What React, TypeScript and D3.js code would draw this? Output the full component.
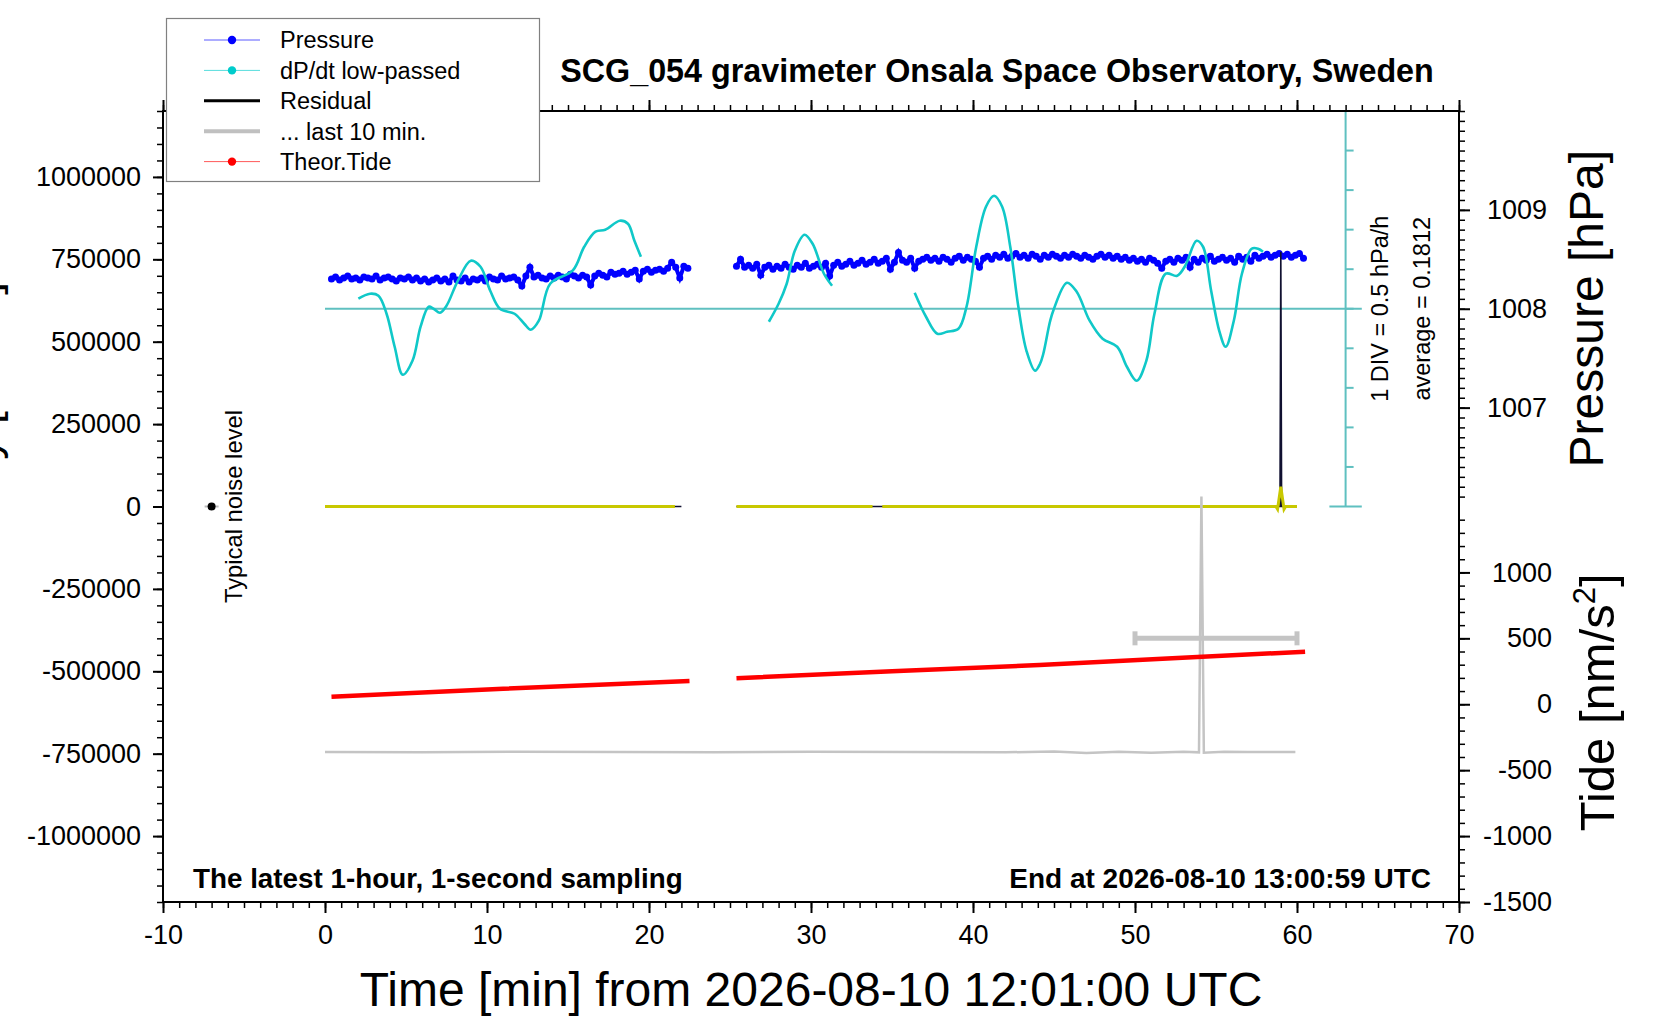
import { useEffect, useRef } from "react"
import * as d3 from "d3"

const FONT = "'Liberation Sans', Arial, Helvetica, sans-serif"

// axes
const TIME_DOMAIN: [number, number] = [-10, 70]
const TIME_TICKS = [-10, 0, 10, 20, 30, 40, 50, 60, 70]
const GRAV_DOMAIN: [number, number] = [-1200000, 1200000]
const GRAV_TICKS = [-1000000, -750000, -500000, -250000, 0, 250000, 500000, 750000, 1000000]
const PRESSURE_DOMAIN: [number, number] = [1006, 1010]
const PRESSURE_TICKS = [1007, 1008, 1009]
const TIDE_DOMAIN: [number, number] = [-1500, 1500]
const TIDE_TICKS = [-1500, -1000, -500, 0, 500, 1000]

// pressure [hPa], sampled every 0.25 min
const pressureStep = 0.25
const pressureSeg1Start = 0.4
const pressureSeg1 = [
  1008.30, 1008.32, 1008.29, 1008.31, 1008.33, 1008.30, 1008.31, 1008.29, 1008.32,
  1008.31, 1008.30, 1008.33, 1008.29, 1008.31, 1008.32, 1008.30, 1008.28, 1008.31,
  1008.30, 1008.32, 1008.29, 1008.31, 1008.28, 1008.30, 1008.27, 1008.29, 1008.31,
  1008.28, 1008.30, 1008.27, 1008.33, 1008.29, 1008.28, 1008.31, 1008.27, 1008.30,
  1008.29, 1008.31, 1008.28, 1008.32, 1008.30, 1008.29, 1008.33, 1008.30, 1008.31,
  1008.32, 1008.29, 1008.23, 1008.33, 1008.42, 1008.32, 1008.34, 1008.31, 1008.30,
  1008.33, 1008.31, 1008.34, 1008.32, 1008.30, 1008.35, 1008.33, 1008.31, 1008.34,
  1008.32, 1008.24, 1008.33, 1008.36, 1008.34, 1008.32, 1008.37, 1008.35, 1008.36,
  1008.38, 1008.35, 1008.37, 1008.39, 1008.30, 1008.38, 1008.40, 1008.37, 1008.39,
  1008.40, 1008.38, 1008.41, 1008.47, 1008.42, 1008.31, 1008.43, 1008.41,
]
const pressureSeg2Start = 25.4
const pressureSeg2 = [
  1008.43, 1008.50, 1008.42, 1008.44, 1008.41, 1008.45, 1008.34, 1008.42, 1008.44, 1008.40,
  1008.43, 1008.41, 1008.45, 1008.42, 1008.40, 1008.44, 1008.42, 1008.46, 1008.41, 1008.43,
  1008.45, 1008.42, 1008.46, 1008.33, 1008.44, 1008.47, 1008.43, 1008.45, 1008.48, 1008.44,
  1008.46, 1008.49, 1008.45, 1008.47, 1008.50, 1008.46, 1008.48, 1008.51, 1008.40, 1008.47,
  1008.57, 1008.49, 1008.47, 1008.51, 1008.41, 1008.48, 1008.50, 1008.52, 1008.49, 1008.51,
  1008.48, 1008.52, 1008.50, 1008.47, 1008.51, 1008.53, 1008.49, 1008.52, 1008.50, 1008.48,
  1008.42, 1008.51, 1008.53, 1008.50, 1008.54, 1008.52, 1008.55, 1008.51, 1008.53, 1008.56,
  1008.52, 1008.54, 1008.51, 1008.55, 1008.53, 1008.50, 1008.54, 1008.52, 1008.55, 1008.53,
  1008.51, 1008.54, 1008.52, 1008.55, 1008.53, 1008.51, 1008.54, 1008.52, 1008.50, 1008.53,
  1008.55, 1008.52, 1008.54, 1008.51, 1008.53, 1008.50, 1008.52, 1008.49, 1008.51, 1008.48,
  1008.50, 1008.47, 1008.51, 1008.49, 1008.46, 1008.41, 1008.48, 1008.50, 1008.47, 1008.51,
  1008.49, 1008.52, 1008.42, 1008.50, 1008.47, 1008.51, 1008.49, 1008.53, 1008.48, 1008.50,
  1008.52, 1008.49, 1008.51, 1008.47, 1008.53, 1008.50, 1008.52, 1008.48, 1008.54, 1008.51,
  1008.53, 1008.55, 1008.52, 1008.54, 1008.56, 1008.53, 1008.55, 1008.52, 1008.54, 1008.56,
  1008.51,
]

// dP/dt low-passed [hPa/h] as [min, value]
const dpdtAverage = 0.1812
const dpdtDiv = 0.5
const dpdtSegA: [number, number][] = [
  [2.06, 0.308], [2.78, 0.371], [3.3, 0.346], [3.8, 0.118], [4.3, -0.299], [4.8, -0.653],
  [5.4, -0.476], [5.9, -0.046], [6.4, 0.207], [6.7, 0.181], [7.1, 0.131], [7.5, 0.219],
  [8.2, 0.535], [9.0, 0.788], [9.6, 0.712], [10.2, 0.409], [10.8, 0.181], [11.7, 0.118],
  [12.3, -0.008], [12.7, -0.084], [13.2, 0.03], [13.9, 0.497], [15.3, 0.665], [16.0, 0.965],
  [16.7, 1.155], [17.3, 1.18], [18.2, 1.294], [18.7, 1.256], [19.1, 1.041], [19.5, 0.839],
]
const dpdtSegB: [number, number][] = [
  [27.4, 0.017], [28.0, 0.244], [28.5, 0.497], [29.0, 0.914], [29.6, 1.117], [30.1, 1.003],
  [30.8, 0.624], [31.3, 0.472],
]
const dpdtSegC: [number, number][] = [
  [36.4, 0.384], [37.1, 0.08], [37.8, -0.135], [38.4, -0.11], [39.1, -0.072], [39.6, 0.207],
  [40.2, 0.965], [40.8, 1.471], [41.3, 1.61], [41.8, 1.471], [42.3, 0.965], [42.8, 0.207],
  [43.3, -0.35], [43.83, -0.603], [44.14, -0.514], [44.34, -0.388], [44.75, 0.017], [44.96, 0.16],
  [45.8, 0.51], [46.4, 0.396], [47.2, 0.03], [48.0, -0.198], [48.9, -0.299], [49.5, -0.552],
  [50.1, -0.729], [50.7, -0.476], [51.2, 0.118], [51.9, 0.624], [52.6, 0.598], [53.1, 0.725],
  [53.8, 1.041], [54.2, 0.965], [54.7, 0.409], [55.2, -0.097], [55.6, -0.299], [56.1, 0.03],
  [56.6, 0.624], [57.2, 0.94], [57.6, 0.94], [57.9, 0.902],
]

// residual [nm/s^2 on left axis] as [min, value]
const residualSeg1: [number, number][] = [[0, 0], [22.0, 0]]
const residualSeg2: [number, number][] = [[25.4, 0], [58.95, 0], [59.0, 773000], [59.05, 0], [60.0, 0]]
const filteredSeg1: [number, number][] = [[0, 0], [21.6, 0]]
const filteredSeg2: [number, number][] = [[25.4, 0], [33.8, 0]]
const filteredSeg3: [number, number][] = [
  [34.4, 0], [58.7, 0], [58.8, -8000], [59.0, 60000], [59.2, -8000], [59.3, 0], [60.0, 0],
]

// last 10 min of residual, stretched over the hour, offset
const last10: [number, number][] = [
  [0, -745000], [6, -746000], [12, -744000], [18, -745000], [24, -746000], [30, -744000],
  [36, -745000], [42, -746000], [45, -743000], [47, -748000], [49, -744000], [51, -747000],
  [53, -744000], [53.95, -746000], [54.1, 30000], [54.25, -747000], [55.5, -744000],
  [57, -745000], [59.9, -745000],
]
const last10BarTimes: [number, number] = [50, 60]
const last10BarTide = 500

// theoretical tide [nm/s^2]
const tideSeg1: [number, number][] = [[0.4, 57], [11, 118], [22.5, 176]]
const tideSeg2: [number, number][] = [[25.4, 198], [35, 250], [44.1, 298], [52, 347], [60.5, 399]]

const noiseLevelTime = -7
const noiseLevelValue = 0

const legendLabels = ["Pressure", "dP/dt low-passed", "Residual", "... last 10 min.", "Theor.Tide"]
const legendKinds = ["dot", "dot", "line", "line", "dot"]
const legendColors = ["#0000ff", "#00cccc", "#000000", "#c0c0c0", "#ff0000"]
const legendLineColors = ["#5a5aff", "#55dddd", "#000000", "#c0c0c0", "#ff5a5a"]
const legendLineWidths = [1, 1, 3, 4, 1]

export default function App() {
  const svgRef = useRef<SVGSVGElement>(null)

  useEffect(() => {
    if (!svgRef.current) return
    const svg = d3.select(svgRef.current)
    svg.selectAll("*").remove()

    const left = 163
    const right = 1459
    const top = 111
    const bottom = 902

    const x = d3.scaleLinear().domain(TIME_DOMAIN).range([left, right])
    const yG = d3.scaleLinear().domain(GRAV_DOMAIN).range([bottom, top])
    const zeroY = yG(0)
    const yP = d3.scaleLinear().domain(PRESSURE_DOMAIN).range([zeroY, top])
    const yT = d3.scaleLinear().domain(TIDE_DOMAIN).range([bottom, zeroY])
    const yD = d3
      .scaleLinear()
      .domain([dpdtAverage - 5 * dpdtDiv, dpdtAverage + 5 * dpdtDiv])
      .range([zeroY, top])

    svg.append("rect").attr("width", 1660).attr("height", 1020).attr("fill", "#fff")

    const styleAxis = (g: d3.Selection<SVGGElement, unknown, null, undefined>, width: number) => {
      g.select(".domain").remove()
      g.selectAll("line").attr("stroke", "#000").attr("stroke-width", width)
      g.attr("font-family", FONT).attr("font-size", 27)
      g.selectAll("text").attr("fill", "#000")
    }

    // ---- dP/dt scale bar
    const dAxisX = x(63)
    const dTicks = d3.range(-5, 6).map((k) => dpdtAverage + k * dpdtDiv)
    const cyanAxis = "#5fc0c0"
    svg
      .append("line")
      .attr("x1", x(0))
      .attr("x2", x(64))
      .attr("y1", yD(dpdtAverage))
      .attr("y2", yD(dpdtAverage))
      .attr("stroke", cyanAxis)
      .attr("stroke-width", 2)
    svg
      .append("line")
      .attr("x1", dAxisX)
      .attr("x2", dAxisX)
      .attr("y1", yD.range()[0])
      .attr("y2", yD.range()[1])
      .attr("stroke", cyanAxis)
      .attr("stroke-width", 2)
    svg
      .append("g")
      .selectAll("line")
      .data(dTicks)
      .join("line")
      .attr("x1", (d, i) => (i === 0 || i === dTicks.length - 1 ? x(62) : dAxisX))
      .attr("x2", (d, i) => (i === 0 || i === dTicks.length - 1 ? x(64) : dAxisX + 8))
      .attr("y1", (d) => yD(d))
      .attr("y2", (d) => yD(d))
      .attr("stroke", cyanAxis)
      .attr("stroke-width", 2)

    const midY = yD(dpdtAverage)
    svg
      .append("text")
      .attr("transform", `translate(1388,${midY}) rotate(-90)`)
      .attr("text-anchor", "middle")
      .attr("font-family", FONT)
      .attr("font-size", 23.5)
      .text("1 DIV = 0.5 hPa/h")
    svg
      .append("text")
      .attr("transform", `translate(1430,${midY}) rotate(-90)`)
      .attr("text-anchor", "middle")
      .attr("font-family", FONT)
      .attr("font-size", 23.5)
      .text(`average = ${dpdtAverage}`)

    // ---- pressure
    const pressurePts = (vals: number[], start: number) =>
      vals.map((v, i) => [start + i * pressureStep, v] as [number, number])
    const pLine = d3
      .line<[number, number]>()
      .x((d) => x(d[0]))
      .y((d) => yP(d[1]))
    ;[pressurePts(pressureSeg1, pressureSeg1Start), pressurePts(pressureSeg2, pressureSeg2Start)].forEach((seg) => {
      svg
        .append("path")
        .attr("d", pLine(seg))
        .attr("fill", "none")
        .attr("stroke", "#0000ff")
        .attr("stroke-width", 4)
      svg
        .append("g")
        .selectAll("circle")
        .data(seg)
        .join("circle")
        .attr("cx", (d) => x(d[0]))
        .attr("cy", (d) => yP(d[1]))
        .attr("r", 3.5)
        .attr("fill", "#0000ff")
    })

    // ---- dP/dt curve
    const dLine = d3
      .line<[number, number]>()
      .x((d) => x(d[0]))
      .y((d) => yD(d[1]))
      .curve(d3.curveCatmullRom)
    ;[dpdtSegA, dpdtSegB, dpdtSegC].forEach((seg) => {
      svg
        .append("path")
        .attr("d", dLine(seg))
        .attr("fill", "none")
        .attr("stroke", "#10c8c8")
        .attr("stroke-width", 2.6)
    })

    // ---- residual and filtered residual
    const gLine = d3
      .line<[number, number]>()
      .x((d) => x(d[0]))
      .y((d) => yG(d[1]))
    ;[residualSeg1, residualSeg2].forEach((seg) => {
      svg
        .append("path")
        .attr("d", gLine(seg))
        .attr("fill", "none")
        .attr("stroke", "#101030")
        .attr("stroke-width", 1.6)
    })
    ;[filteredSeg1, filteredSeg2, filteredSeg3].forEach((seg) => {
      svg
        .append("path")
        .attr("d", gLine(seg))
        .attr("fill", "none")
        .attr("stroke", "#c8c800")
        .attr("stroke-width", 3)
    })

    // ---- last 10 min
    svg
      .append("path")
      .attr("d", gLine(last10))
      .attr("fill", "none")
      .attr("stroke", "#c4c4c4")
      .attr("stroke-width", 2.5)
    const barY = yT(last10BarTide)
    const bar = svg.append("g").attr("stroke", "#c4c4c4").attr("stroke-width", 5)
    bar
      .append("line")
      .attr("x1", x(last10BarTimes[0]))
      .attr("x2", x(last10BarTimes[1]))
      .attr("y1", barY)
      .attr("y2", barY)
    last10BarTimes.forEach((t) => {
      bar
        .append("line")
        .attr("x1", x(t))
        .attr("x2", x(t))
        .attr("y1", barY - 7)
        .attr("y2", barY + 7)
    })

    // ---- theoretical tide
    const tLine = d3
      .line<[number, number]>()
      .x((d) => x(d[0]))
      .y((d) => yT(d[1]))
    ;[tideSeg1, tideSeg2].forEach((seg) => {
      svg
        .append("path")
        .attr("d", tLine(seg))
        .attr("fill", "none")
        .attr("stroke", "#ff0000")
        .attr("stroke-width", 4.5)
    })

    // ---- typical noise level
    svg
      .append("line")
      .attr("x1", x(noiseLevelTime) - 7)
      .attr("x2", x(noiseLevelTime) + 7)
      .attr("y1", yG(noiseLevelValue))
      .attr("y2", yG(noiseLevelValue))
      .attr("stroke", "#bbb")
      .attr("stroke-width", 2)
    svg
      .append("circle")
      .attr("cx", x(noiseLevelTime))
      .attr("cy", yG(noiseLevelValue))
      .attr("r", 4)
      .attr("fill", "#000")
    svg
      .append("text")
      .attr("transform", `translate(242,${zeroY}) rotate(-90)`)
      .attr("text-anchor", "middle")
      .attr("font-family", FONT)
      .attr("font-size", 23.8)
      .text("Typical noise level")

    // ---- frame
    svg
      .append("rect")
      .attr("x", left)
      .attr("y", top)
      .attr("width", right - left)
      .attr("height", bottom - top)
      .attr("fill", "none")
      .attr("stroke", "#000")
      .attr("stroke-width", 2)

    // ---- axes
    const bx = svg.append("g").attr("transform", `translate(0,${bottom})`)
    bx.call(d3.axisBottom(x).tickValues(d3.range(-10, 71, 1)).tickSize(6).tickFormat(() => ""))
    styleAxis(bx, 1.5)
    const bxM = svg.append("g").attr("transform", `translate(0,${bottom})`)
    bxM.call(d3.axisBottom(x).tickValues(TIME_TICKS).tickSize(11).tickPadding(12).tickFormat((d) => String(d)))
    styleAxis(bxM, 2)

    const tx = svg.append("g").attr("transform", `translate(0,${top})`)
    tx.call(d3.axisTop(x).tickValues(d3.range(-10, 71, 1)).tickSize(6).tickFormat(() => ""))
    styleAxis(tx, 1.5)
    const txM = svg.append("g").attr("transform", `translate(0,${top})`)
    txM.call(d3.axisTop(x).tickValues(TIME_TICKS).tickSize(11).tickFormat(() => ""))
    styleAxis(txM, 2)

    const ly = svg.append("g").attr("transform", `translate(${left},0)`)
    ly.call(d3.axisLeft(yG).tickValues(d3.range(-1200000, 1200001, 50000)).tickSize(6).tickFormat(() => ""))
    styleAxis(ly, 1.5)
    const lyM = svg.append("g").attr("transform", `translate(${left},0)`)
    lyM.call(d3.axisLeft(yG).tickValues(GRAV_TICKS).tickSize(10).tickPadding(12).tickFormat((d) => String(d)))
    styleAxis(lyM, 2)

    const rp = svg.append("g").attr("transform", `translate(${right},0)`)
    rp.call(
      d3
        .axisRight(yP)
        .tickValues(d3.range(10061, 10101).map((v) => v / 10))
        .tickSize(6)
        .tickFormat(() => ""),
    )
    styleAxis(rp, 1.5)
    const rpM = svg.append("g").attr("transform", `translate(${right},0)`)
    rpM.call(d3.axisRight(yP).tickValues(PRESSURE_TICKS).tickSize(11).tickFormat((d) => String(d)))
    styleAxis(rpM, 2)
    rpM.selectAll("text").attr("text-anchor", "end").attr("x", 88)

    const rt = svg.append("g").attr("transform", `translate(${right},0)`)
    rt.call(d3.axisRight(yT).tickValues(d3.range(-1500, 1401, 100)).tickSize(6).tickFormat(() => ""))
    styleAxis(rt, 1.5)
    const rtM = svg.append("g").attr("transform", `translate(${right},0)`)
    rtM.call(d3.axisRight(yT).tickValues(TIDE_TICKS).tickSize(11).tickFormat((d) => String(d)))
    styleAxis(rtM, 2)
    rtM.selectAll("text").attr("text-anchor", "end").attr("x", 93)

    // ---- axis titles
    svg
      .append("text")
      .attr("x", (left + right) / 2)
      .attr("y", 1006)
      .attr("text-anchor", "middle")
      .attr("font-family", FONT)
      .attr("font-size", 48)
      .text("Time [min] from 2026-08-10 12:01:00 UTC")

    svg
      .append("text")
      .attr("transform", `translate(1603,${yP(1008)}) rotate(-90)`)
      .attr("text-anchor", "middle")
      .attr("font-family", FONT)
      .attr("font-size", 48)
      .text("Pressure [hPa]")

    const tideTitle = svg
      .append("text")
      .attr("transform", `translate(1614,${yT(0) - 2}) rotate(-90)`)
      .attr("text-anchor", "middle")
      .attr("font-family", FONT)
      .attr("font-size", 49)
    tideTitle.append("tspan").text("Tide [nm/s")
    tideTitle.append("tspan").attr("font-size", 31).attr("dy", -19).text("2")
    tideTitle.append("tspan").attr("dy", 19).text("]")

    const gravTitle = svg
      .append("text")
      .attr("transform", `translate(-2,282) rotate(-90)`)
      .attr("text-anchor", "end")
      .attr("font-family", FONT)
      .attr("font-size", 46)
    gravTitle.append("tspan").text("Residual Gravity [nm/s")
    gravTitle.append("tspan").attr("font-size", 30).attr("dy", -18).text("2")
    gravTitle.append("tspan").attr("dy", 18).text("]")

    // ---- titles and notes
    svg
      .append("text")
      .attr("x", 997)
      .attr("y", 82)
      .attr("text-anchor", "middle")
      .attr("font-family", FONT)
      .attr("font-weight", "bold")
      .attr("font-size", 32.3)
      .text("SCG_054 gravimeter Onsala Space Observatory, Sweden")
    svg
      .append("text")
      .attr("x", 193)
      .attr("y", 888)
      .attr("font-family", FONT)
      .attr("font-weight", "bold")
      .attr("font-size", 27.8)
      .text("The latest 1-hour, 1-second sampling")
    svg
      .append("text")
      .attr("x", 1431)
      .attr("y", 888)
      .attr("text-anchor", "end")
      .attr("font-family", FONT)
      .attr("font-weight", "bold")
      .attr("font-size", 28)
      .text("End at 2026-08-10 13:00:59 UTC")

    // ---- legend
    const legend = svg.append("g")
    legend
      .append("rect")
      .attr("x", 166.5)
      .attr("y", 18.5)
      .attr("width", 373)
      .attr("height", 163)
      .attr("fill", "#fff")
      .attr("stroke", "#808080")
      .attr("stroke-width", 1.2)
    legendLabels.forEach((label, i) => {
      const cy = 40 + i * 30.4
      legend
        .append("line")
        .attr("x1", 204)
        .attr("x2", 260)
        .attr("y1", cy)
        .attr("y2", cy)
        .attr("stroke", legendLineColors[i])
        .attr("stroke-width", legendLineWidths[i])
      if (legendKinds[i] === "dot") {
        legend.append("circle").attr("cx", 232).attr("cy", cy).attr("r", 4.2).attr("fill", legendColors[i])
      }
      legend
        .append("text")
        .attr("x", 280)
        .attr("y", cy)
        .attr("dy", "0.36em")
        .attr("font-family", FONT)
        .attr("font-size", 23.5)
        .text(label)
    })
  }, [])

  return (
    <svg
      ref={svgRef}
      width={1660}
      height={1020}
      style={{ position: "absolute", left: 0, top: 0, display: "block" }}
    />
  )
}
